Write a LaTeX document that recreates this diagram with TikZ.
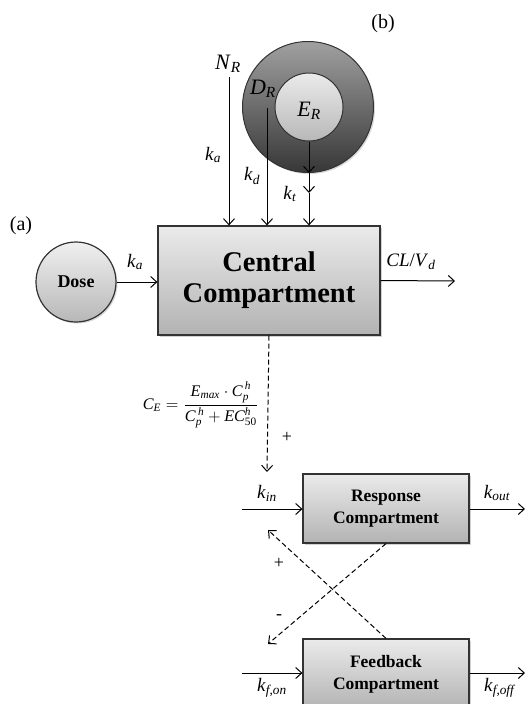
\documentclass[tikz,border=0pt]{standalone}
\usepackage{amsmath}
\usepackage{fontspec}
\setmainfont{Liberation Serif}
\usetikzlibrary{arrows.meta,shadows}
\newcommand\kl[2]{\textit{#1}\textsubscript{\textit{#2}}}
\newcommand\ti[1]{\text{\itshape #1}}
\begin{document}
\begin{tikzpicture}[x=1pt,y=-1pt,
  line width=1pt,
  tip/.style={-{Straight Barb[length=6pt,width=11pt]}},
  cbox/.style={draw=black!80, line width=1.2pt, top color=black!8, bottom color=black!30,
     drop shadow={shadow xshift=2pt,shadow yshift=-2pt,opacity=0.35}, align=center, font=\bfseries},
  lab/.style={font=\fontsize{19}{22}\selectfont, inner sep=0pt},
  dsh/.style={dash pattern=on 5pt off 3pt},
]
\clip (0,0) rectangle (526,704);
\fill[white] (0,0) rectangle (526,704);

% top circles
\node[circle, draw=black!80, line width=1pt, minimum size=131pt, inner sep=0pt,
  top color={rgb,255:red,160;green,160;blue,160}, bottom color={rgb,255:red,55;green,55;blue,55},
  drop shadow={shadow xshift=1.5pt,shadow yshift=-1.5pt,opacity=0.3}] (outer) at (308,107) {};
\node[circle, draw=black!80, line width=1pt, minimum size=68pt, inner sep=0pt,
  top color=black!8, bottom color=black!28] (er) at (309,107) {};
\node[lab, font=\fontsize{22}{24}\selectfont] (erl) at (309,111) {\kl{E}{R}};

% central compartment
\node[cbox, minimum width=222pt, minimum height=109pt, font=\bfseries\fontsize{28.5}{31}\selectfont] (cc) at (269,280.5) {Central\\Compartment};

% dose
\node[circle, draw=black!80, line width=1.2pt, minimum size=80pt, inner sep=0pt,
  top color=black!6, bottom color=black!28,
  drop shadow={shadow xshift=1.5pt,shadow yshift=-1.5pt,opacity=0.3},
  font=\bfseries\fontsize{18}{20}\selectfont] (dose) at (76,282) {Dose};
\draw[tip] (dose.east) -- (dose.east -| cc.west);
\node[lab] (ka1) at (135,262) {\kl{k}{a}};

\node[lab, font=\fontsize{20}{22}\selectfont] (pa) at (21,226) {(a)};
\node[lab, font=\fontsize{20}{22}\selectfont] (pb) at (383,24) {(b)};

% N_R
\node[lab, font=\fontsize{22}{24}\selectfont] (nr) at (228,64) {\kl{N}{R}};
\coordinate (nrs) at (229,77);
\draw[tip] (nrs) -- (nrs |- cc.north);
\node[lab] (ka2) at (213,155) {\kl{k}{a}};

% D_R
\node[lab, font=\fontsize{22}{24}\selectfont] (dr) at (263,89) {\kl{D}{R}};
\coordinate (drs) at (267,108);
\draw[tip] (drs) -- (drs |- cc.north);
\node[lab] (kd) at (252,176) {\kl{k}{d}};

% E_R -> central
\coordinate (kt1) at (309,193);
\draw[tip] (er.south) -- (er.south |- outer.south);
\draw[tip] (er.south |- outer.south) -- (kt1);
\draw[tip] (kt1) -- (kt1 |- cc.north);
\node[lab] (kt) at (290,194) {\kl{k}{t}};

% CL/Vd
\coordinate (clend) at (455,281);
\draw[tip] (cc.east) -- (clend);
\node[lab] (cl) at (411,262) {\textit{CL}/\kl{V}{d}};

% formula
\node[inner sep=0pt] (ce) at (201,405)
  {\scalebox{1.62}{$\ti{C}_{\ti{E}}=\dfrac{\ti{E}_{\ti{max}}\cdot \ti{C}_{\ti{p}}^{\,\ti{h}}}{\ti{C}_{\ti{p}}^{\,\ti{h}}+\ti{EC}_{\text{50}}^{\ti{h}}}$}};
\node[inner sep=0pt, font=\fontsize{18}{20}\selectfont] (p1) at (287,437) {+};

% response compartment
\node[cbox, minimum width=166pt, minimum height=69pt, font=\bfseries\fontsize{17.5}{22}\selectfont] (rc) at (386,508.5) {Response\\Compartment};
\coordinate (ein) at (267,472);
\draw[dsh, tip] (cc.south) -- (ein);
\coordinate (rin) at (242,509);
\draw[tip] (rin) -- (rin -| rc.west);
\coordinate (rout) at (525,509);
\draw[tip] (rc.east |- rout) -- (rout);
\node[lab] (kin) at (267,493) {\kl{k}{in}};
\node[lab] (kout) at (497,493) {\kl{k}{out}};

% feedback compartment
\node[cbox, minimum width=166pt, minimum height=70pt, font=\bfseries\fontsize{17.5}{22}\selectfont] (fc) at (386,674) {Feedback\\Compartment};
\coordinate (fin) at (242,673);
\draw[tip] (fin) -- (fin -| fc.west);
\coordinate (fout) at (525,673);
\draw[tip] (fc.east |- fout) -- (fout);
\node[lab] (kfon) at (272,688) {\kl{k}{f,on}};
\node[lab] (kfoff) at (500,688) {\kl{k}{f,off}};

% crossing feedback
\coordinate (c1) at (268,530);
\coordinate (c2) at (268,644);
\draw[dsh, tip] (fc.north) -- (c1);
\draw[dsh, tip] (rc.south) -- (c2);
\node[inner sep=0pt, font=\fontsize{18}{20}\selectfont] (p2) at (279,563) {+};
\node[inner sep=0pt, font=\fontsize{18}{20}\selectfont] (m1) at (279,617) {-};
\end{tikzpicture}
\end{document}
